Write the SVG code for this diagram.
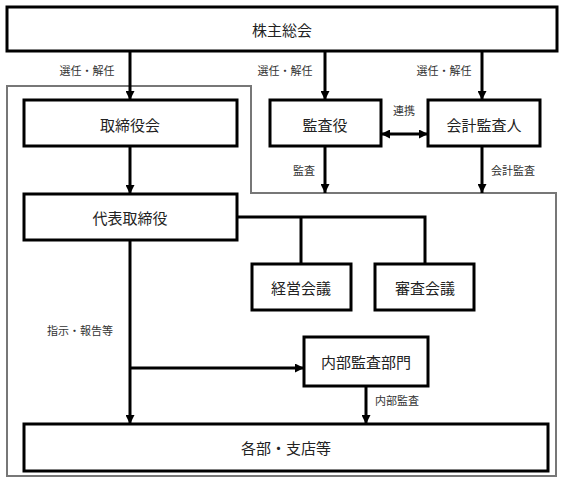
<svg xmlns="http://www.w3.org/2000/svg" width="571" height="483" viewBox="0 0 571 483">
<defs>
<style>
.box{fill:#fff;stroke:#000;stroke-width:3}
.t{font-family:"Noto Sans CJK JP","Noto Sans CJK SC",sans-serif;font-size:15px;fill:#222;text-anchor:middle;dominant-baseline:central}
.l{font-family:"Noto Sans CJK JP","Noto Sans CJK SC",sans-serif;font-size:11px;fill:#333;text-anchor:middle;dominant-baseline:central}
.c{fill:none;stroke:#000;stroke-width:3}
.frame{fill:none;stroke:#777;stroke-width:2}
</style>
<marker id="ah" viewBox="0 0 10 10" refX="10" refY="5" markerWidth="3" markerHeight="3" orient="auto-start-reverse" markerUnits="strokeWidth">
<path d="M0,0 L10,5 L0,10 z" fill="#000"/>
</marker>
</defs>
<rect width="571" height="483" fill="#fff"/>
<polygon class="frame" points="7,86 251,86 251,193 556,193 556,476 7,476"/>
<g id="connectors">
<line class="c" x1="130" y1="51" x2="130" y2="100" marker-end="url(#ah)"/>
<line class="c" x1="325" y1="51" x2="325" y2="100" marker-end="url(#ah)"/>
<line class="c" x1="482" y1="51" x2="482" y2="100" marker-end="url(#ah)"/>
<line class="c" x1="381" y1="134" x2="428" y2="134" marker-start="url(#ah)" marker-end="url(#ah)"/>
<line class="c" x1="325" y1="146" x2="325" y2="193" marker-end="url(#ah)"/>
<line class="c" x1="482" y1="146" x2="482" y2="193" marker-end="url(#ah)"/>
<line class="c" x1="130" y1="146" x2="130" y2="194" marker-end="url(#ah)"/>
<polyline class="c" points="237,217 425,217 425,264"/>
<line class="c" x1="301" y1="217" x2="301" y2="264"/>
<line class="c" x1="130" y1="240" x2="130" y2="424" marker-end="url(#ah)"/>
<line class="c" x1="130" y1="368" x2="304" y2="368" marker-end="url(#ah)"/>
<line class="c" x1="366" y1="386" x2="366" y2="424" marker-end="url(#ah)"/>
<text class="l" x="87" y="70">選任・解任</text>
<text class="l" x="285" y="70">選任・解任</text>
<text class="l" x="444" y="70">選任・解任</text>
<text class="l" x="404" y="110">連携</text>
<text class="l" x="304" y="170">監査</text>
<text class="l" x="513" y="170">会計監査</text>
<text class="l" x="80" y="330">指示・報告等</text>
<text class="l" x="397" y="400">内部監査</text>
</g>
<g id="kabunushi"><rect class="box" x="7" y="7" width="550" height="44"/><text class="t" x="282" y="29">株主総会</text></g>
<g id="torishimariyakukai"><rect class="box" x="24" y="100" width="213" height="46"/><text class="t" x="130" y="124">取締役会</text></g>
<g id="kansayaku"><rect class="box" x="270" y="100" width="111" height="46"/><text class="t" x="325" y="124">監査役</text></g>
<g id="kaikeikansanin"><rect class="box" x="428" y="100" width="112" height="46"/><text class="t" x="484" y="124">会計監査人</text></g>
<g id="daihyo"><rect class="box" x="24" y="194" width="213" height="46"/><text class="t" x="130" y="217">代表取締役</text></g>
<g id="keiei"><rect class="box" x="252" y="264" width="99" height="46"/><text class="t" x="301" y="287">経営会議</text></g>
<g id="shinsa"><rect class="box" x="375" y="264" width="99" height="46"/><text class="t" x="425" y="287">審査会議</text></g>
<g id="naibu"><rect class="box" x="304" y="337" width="124" height="49"/><text class="t" x="366" y="361">内部監査部門</text></g>
<g id="kakubu"><rect class="box" x="24" y="424" width="524" height="47"/><text class="t" x="286" y="447">各部・支店等</text></g>
</svg>
